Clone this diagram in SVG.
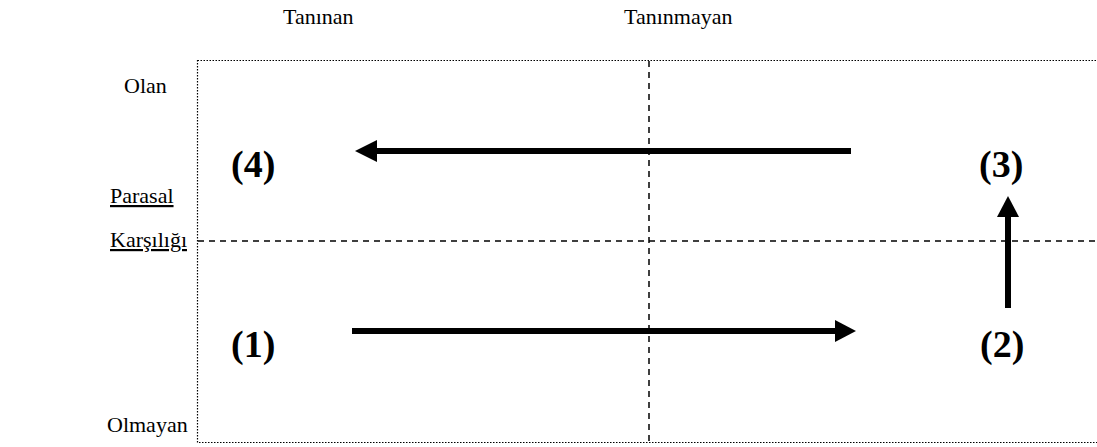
<svg xmlns="http://www.w3.org/2000/svg" width="1097" height="447" viewBox="0 0 1097 447">
  <style>
    .lbl { font-family: "Liberation Serif", "Times New Roman", serif; font-size: 22px; fill: #000; }
    .num { font-family: "Liberation Serif", "Times New Roman", serif; font-size: 38px; font-weight: bold; fill: #000; }
    .frame { fill: none; stroke: #000; stroke-width: 1.2; stroke-dasharray: 1.5 1.5; }
    .split { fill: none; stroke: #000; stroke-width: 1.5; stroke-dasharray: 6 5; }
    .flow { stroke: #000; stroke-width: 6; fill: none; }
    .head { fill: #000; }
  </style>
  <rect width="1097" height="447" fill="#fff"/>

  <!-- axis labels -->
  <g id="axis-labels">
    <text class="lbl" x="283" y="24">Tanınan</text>
    <text class="lbl" x="624" y="24">Tanınmayan</text>
    <text class="lbl" x="124" y="93">Olan</text>
    <text class="lbl" x="110" y="203" text-decoration="underline">Parasal</text>
    <text class="lbl" x="110" y="247" text-decoration="underline">Karşılığı</text>
    <text class="lbl" x="107" y="432">Olmayan</text>
  </g>

  <!-- grid -->
  <g id="grid">
    <rect class="frame" x="197.5" y="60.5" width="910" height="382"/>
    <line class="split" x1="649" y1="61" x2="649" y2="442"/>
    <line class="split" x1="198" y1="241" x2="1097" y2="241"/>
  </g>

  <!-- quadrant numbers -->
  <g id="q4"><text class="num" x="231" y="177">(4)</text></g>
  <g id="q3"><text class="num" x="979" y="177">(3)</text></g>
  <g id="q1"><text class="num" x="231" y="357">(1)</text></g>
  <g id="q2"><text class="num" x="980" y="357">(2)</text></g>

  <!-- connectors -->
  <g id="connectors">
    <line class="flow" x1="352" y1="331" x2="837" y2="331"/>
    <polygon class="head" points="835,320 856,331 835,342"/>
    <line class="flow" x1="851" y1="151" x2="375" y2="151"/>
    <polygon class="head" points="377,140 355,151 377,162"/>
    <line class="flow" x1="1008" y1="308" x2="1008" y2="215"/>
    <polygon class="head" points="997,217 1008,196 1019,217"/>
  </g>
</svg>
